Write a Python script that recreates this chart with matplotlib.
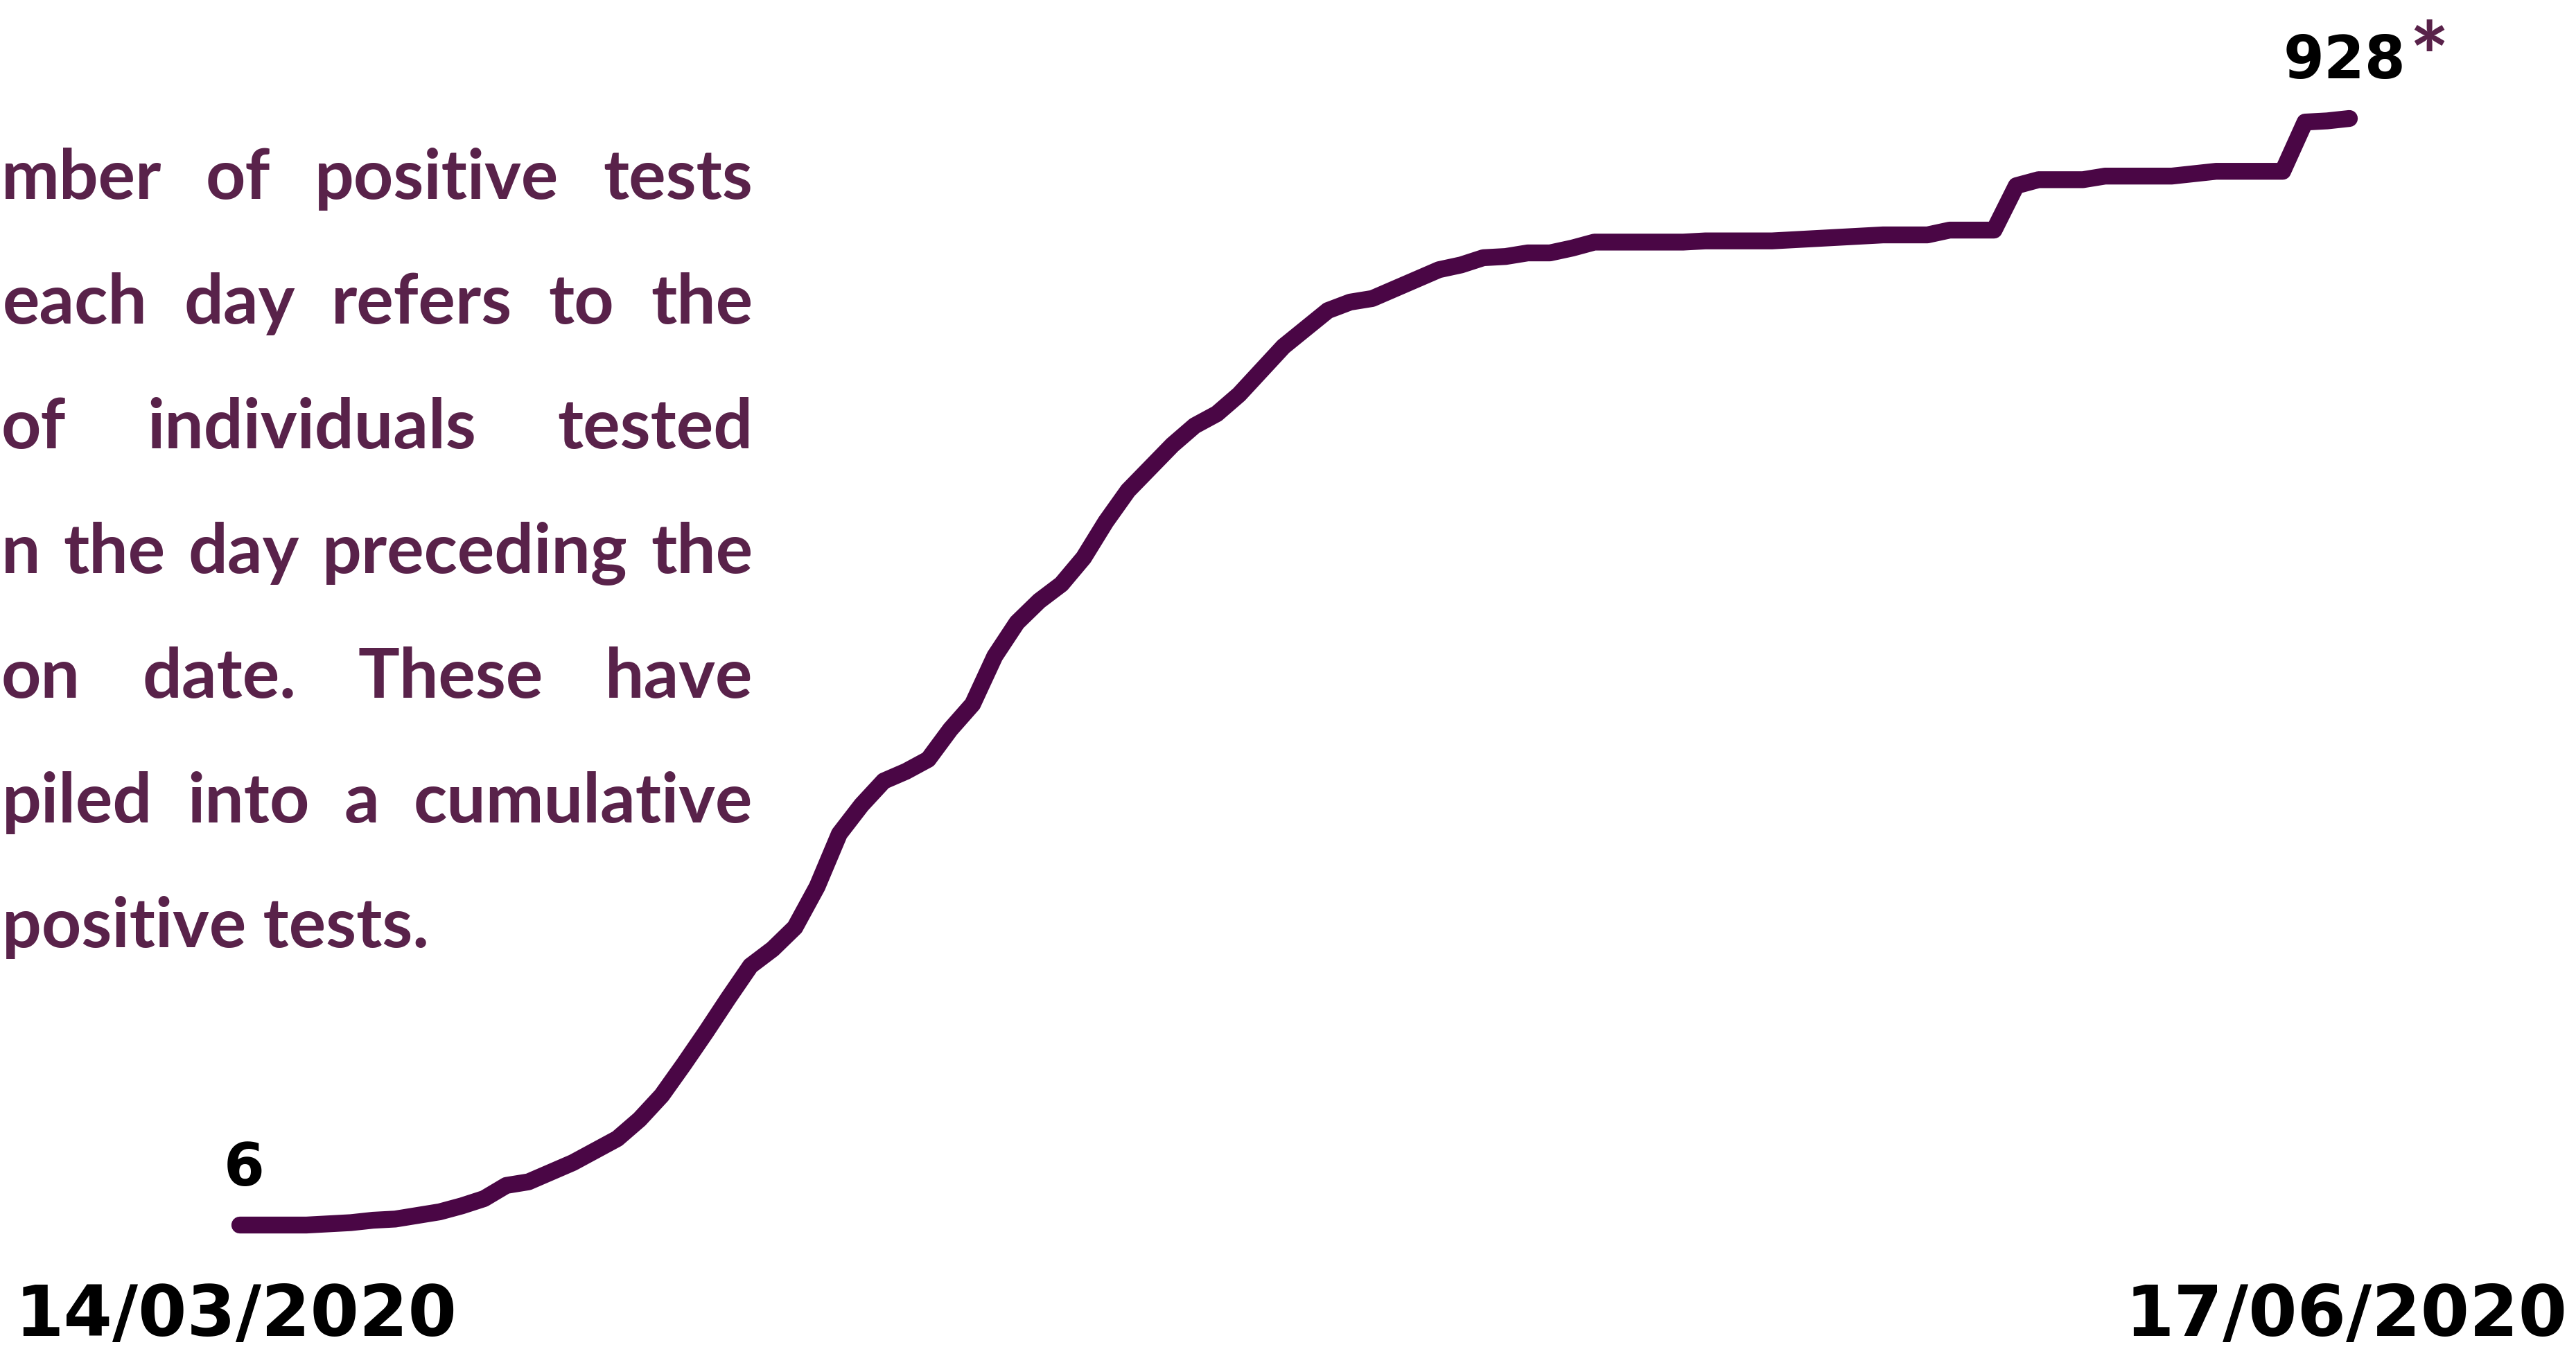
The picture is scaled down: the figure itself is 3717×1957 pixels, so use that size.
import numpy as np
import matplotlib.pyplot as plt

# cumulative positive tests, one value per day from 14/03/2020 to 17/06/2020
cases = [6, 6, 6, 6, 7, 8, 10, 11, 14, 17,
         22, 28, 39, 42, 50, 58, 68, 78, 94, 114,
         140, 167, 195, 222, 236, 254, 288, 332, 356, 376,
         384, 394, 419, 440, 480, 508, 526, 540, 562, 592,
         618, 637, 656, 672, 682, 698, 718, 738, 753, 768,
         775, 778, 786, 794, 802, 806, 812, 813, 816, 816,
         820, 825, 825, 825, 825, 825, 826, 826, 826, 826,
         827, 828, 829, 830, 831, 831, 831, 835, 835, 835,
         872, 877, 877, 877, 880, 880, 880, 880, 882, 884,
         884, 884, 884, 925, 926, 928]
start_label = "14/03/2020"
end_label = "17/06/2020"
first_label = "6"
last_label = "928"

text_lines = [
    ["mber", "of", "positive", "tests"],
    ["each", "day", "refers", "to", "the"],
    ["of", "individuals", "tested"],
    ["n", "the", "day", "preceding", "the"],
    ["on", "date.", "These", "have"],
    ["piled", "into", "a", "cumulative"],
]
last_line = "positive tests."

W, H = 3717, 1957
LINE_COLOR = '#4a0645'
TEXT_COLOR = '#59224a'

fig = plt.figure(figsize=(W / 100, H / 100), dpi=100)
ax = fig.add_axes([0, 0, 1, 1])
ax.axis('off')

days = np.arange(len(cases))

# pixel anchors of first and last point in the picture
x0_px, x1_px = 346, 3390
y0_px, y1_px = 1768, 171
sx = (x1_px - x0_px) / (days[-1] - days[0])
sy = (y0_px - y1_px) / (cases[-1] - cases[0])
xmin = days[0] - x0_px / sx
ax.set_xlim(xmin, xmin + W / sx)
ymin = cases[0] - (H - y0_px) / sy
ax.set_ylim(ymin, ymin + H / sy)

ax.plot(days, cases, color=LINE_COLOR, lw=17.5,
        solid_capstyle='round', solid_joinstyle='round')

num_style = dict(fontfamily='DejaVu Sans', fontweight='bold', fontsize=61, color='black')
ax.annotate(first_label, (days[0], cases[0]), xytext=(6, 57),
            textcoords='offset pixels', ha='center', va='baseline', **num_style)
ax.annotate(last_label, (days[-1], cases[-1]), xytext=(-7, 58),
            textcoords='offset pixels', ha='center', va='baseline', **num_style)
fig.text(3476 / W, 1 - 30 / H, '*', fontfamily='Lato', fontweight='bold',
         fontsize=97, color=TEXT_COLOR, ha='left', va='top')

date_style = dict(fontfamily='DejaVu Sans', fontweight='bold', fontsize=73, color='black')
fig.text(22 / W, 1 - 1928 / H, start_label, ha='left', va='baseline', **date_style)
fig.text(3705 / W, 1 - 1928 / H, end_label, ha='right', va='baseline', **date_style)

# justified paragraph, flush to the left edge
para_style = dict(fontfamily='Lato', fontweight='bold', fontsize=72, color=TEXT_COLOR,
                  va='baseline', ha='left')
renderer = fig.canvas.get_renderer()
lefts = [2, 4, 2, 2, 2, 3]
right = 1086
base0, step = 287, 180
for i, (words, left) in enumerate(zip(text_lines, lefts)):
    base = base0 + i * step
    texts = [fig.text(0, 0, w, **para_style) for w in words]
    widths = [t.get_window_extent(renderer).width for t in texts]
    gap = (right - left - sum(widths)) / (len(words) - 1)
    x = left
    for t, w in zip(texts, widths):
        t.set_position((x / W, 1 - base / H))
        x += w + gap
fig.text(3 / W, 1 - (base0 + 6 * step) / H, last_line, **para_style)

fig.savefig('out.png', dpi=100, facecolor='white')
